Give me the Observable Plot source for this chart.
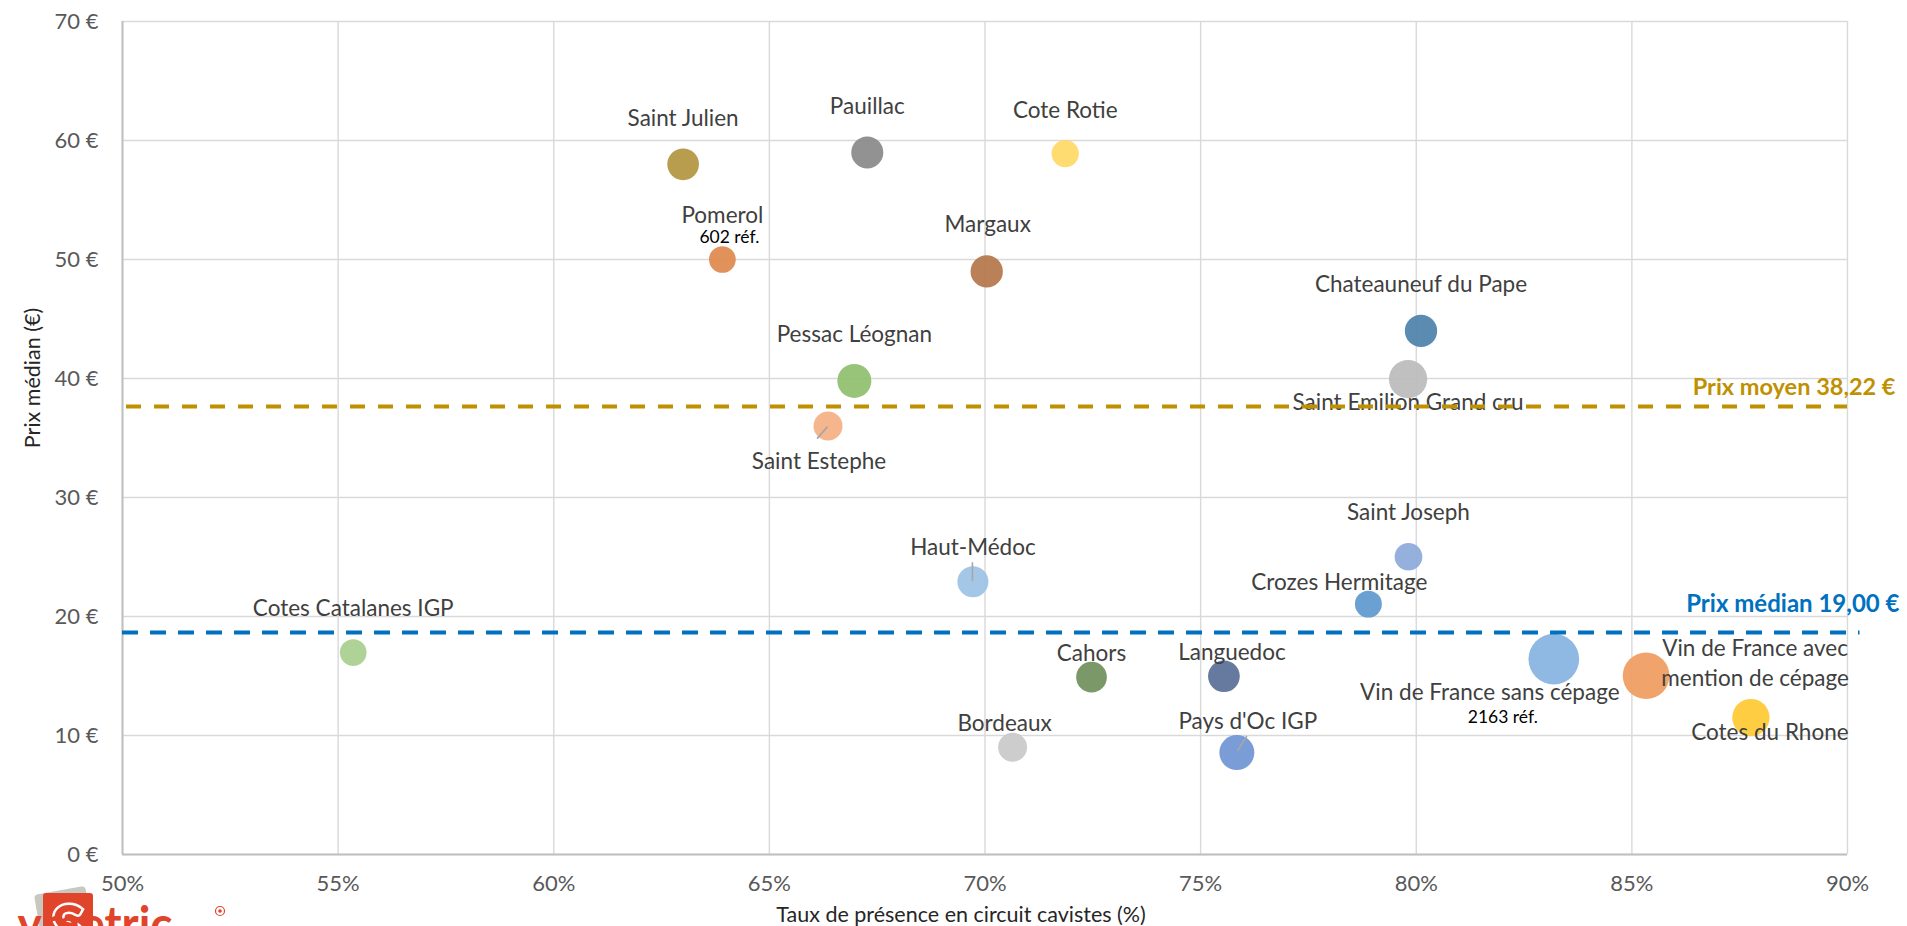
<!DOCTYPE html>
<html>
<head>
<meta charset="utf-8">
<script src="https://cdn.jsdelivr.net/npm/d3@7"></script>
<script src="https://cdn.jsdelivr.net/npm/@observablehq/plot@0.6"></script>
<style>
  html, body { margin: 0; padding: 0; background: #fff; }
  #chart { position: relative; width: 1907px; height: 926px; overflow: hidden; }
</style>
</head>
<body>
<div id="chart"></div>
<script>
// ---------- Data ----------
const appellations = [
  "Saint Julien", "Pauillac", "Cote Rotie", "Pomerol", "Margaux",
  "Pessac Léognan", "Saint Estephe", "Chateauneuf du Pape", "Saint Emilion Grand cru",
  "Cotes Catalanes IGP", "Haut-Médoc", "Cahors", "Languedoc", "Bordeaux",
  "Pays d'Oc IGP", "Saint Joseph", "Crozes Hermitage",
  "Vin de France sans cépage", "Vin de France avec\nmention de cépage", "Cotes du Rhone"
];
// Taux de présence en circuit cavistes (%)
const presence = [63.0, 67.27, 71.86, 63.91, 70.04, 66.97, 66.36, 80.11, 79.81,
                  55.35, 69.72, 72.47, 75.54, 70.64, 75.84, 79.82, 78.89, 83.19, 85.33, 87.76];
// Prix médian (€)
const prixMedian = [58.0, 59.0, 58.9, 50.0, 49.0, 39.8, 36.0, 44.0, 39.95,
                    16.97, 22.92, 14.9, 14.98, 9.02, 8.57, 25.02, 21.04, 16.42, 15.02, 11.51];
// Nombre de références (bubble size)
const references = [845, 862, 627, 602, 878, 973, 708, 878, 1234,
                    600, 809, 793, 845, 708, 1031, 646, 613, 2163, 1835, 1171];
const bubbleColors = ["#b1963f", "#8a8a8a", "#ffd966", "#df8a4f", "#b5764a",
                      "#8fc06e", "#f4b084", "#5082ab", "#bbbbbb",
                      "#a9d08e", "#9dc3e6", "#71905d", "#5a6f98", "#c9c9c9",
                      "#7094d4", "#8eaadb", "#5f99cf", "#86b3e0", "#f09c61", "#ffc933"];
// appellations whose reference count is written on the chart
const refCountShown = ["Pomerol", "Vin de France sans cépage"];

// Reference lines (label text, and level where the dashed line is drawn in the picture)
const refLineLabels = ["Prix moyen 38,22 €", "Prix médian 19,00 €"];
const refLineLevels = [37.65, 18.66];
const refLineColors = ["#bf9000", "#0070c0"];

const xTicks = [50, 55, 60, 65, 70, 75, 80, 85, 90];
const yTicks = [0, 10, 20, 30, 40, 50, 60, 70];
const xTitle = "Taux de présence en circuit cavistes (%)";
const yTitle = "Prix médian (€)";

// ---------- Layout (pixel offsets of labels, not data) ----------
const labelOffset = {
  "Saint Julien": [0, -48], "Pauillac": [0, -48], "Cote Rotie": [0, -45],
  "Pomerol": [0, -46], "Margaux": [1, -49], "Pessac Léognan": [0, -48],
  "Saint Estephe": [-9, 33], "Chateauneuf du Pape": [0, -48],
  "Saint Emilion Grand cru": [0, 21], "Cotes Catalanes IGP": [0, -46],
  "Haut-Médoc": [0, -36], "Cahors": [0, -26], "Languedoc": [8, -26],
  "Bordeaux": [-8, -26], "Pays d'Oc IGP": [11, -33], "Saint Joseph": [0, -46],
  "Crozes Hermitage": [-29, -24], "Vin de France sans cépage": [-64, 31],
  "Vin de France avec\nmention de cépage": [109, -14], "Cotes du Rhone": [19, 13]
};
const refCountOffset = { "Pomerol": [7, -22], "Vin de France sans cépage": [-51, 58] };
const leaderOffset = {
  "Saint Estephe": [[0, 1], [-10.5, 13]],
  "Haut-Médoc": [[0, 0], [0, -19]],
  "Pays d'Oc IGP": [[1, -1], [10.5, -16]]
};

const table = appellations.map((name, i) => ({
  name, x: presence[i], y: prixMedian[i], refs: references[i], color: bubbleColors[i]
}));
const refLines = refLineLabels.map((label, i) => ({label, y: refLineLevels[i], color: refLineColors[i]}));

const FONT = "Lato, 'Open Sans', sans-serif";
const W = 1907, H = 926;

const labelMarks = table.map(d => Plot.text([d], {
  x: "x", y: "y", text: "name",
  dx: labelOffset[d.name][0], dy: labelOffset[d.name][1],
  fontSize: 22.5, fill: "#404040", lineHeight: 1.33
}));
const refCountMarks = table.filter(d => refCountShown.includes(d.name)).map(d => Plot.text([d], {
  x: "x", y: "y", text: d => `${d.refs} réf.`,
  dx: refCountOffset[d.name][0], dy: refCountOffset[d.name][1],
  fontSize: 17.5, fill: "#000"
}));

// leader lines, drawn through the plot's own scales
const leaders = (index, scales) => {
  const g = d3.create("svg:g");
  for (const d of table) {
    const off = leaderOffset[d.name];
    if (!off) continue;
    const px = scales.x(d.x), py = scales.y(d.y);
    g.append("line")
      .attr("x1", px + off[0][0]).attr("y1", py + off[0][1])
      .attr("x2", px + off[1][0]).attr("y2", py + off[1][1])
      .attr("stroke", "#a6a6a6").attr("stroke-width", 1.6);
  }
  return g.node();
};

const chart = Plot.plot({
  width: W, height: H,
  marginLeft: 122, marginRight: 60, marginTop: 21, marginBottom: 72,
  style: { fontFamily: FONT, fontSize: "22px", color: "#595959", background: "#fff", overflow: "visible" },
  x: { domain: [50, 90], ticks: xTicks, tickFormat: d => d + "%", tickSize: 0, tickPadding: 21, label: null },
  y: { domain: [0, 70], ticks: yTicks, tickFormat: d => d + " €", tickSize: 0, tickPadding: 24, label: null },
  r: { type: "sqrt", domain: [0, 2163], range: [0, 25.35] },
  color: { type: "identity" },
  marks: [
    Plot.ruleX(xTicks, { stroke: "#d9d9d9", strokeWidth: 1.4 }),
    Plot.ruleY(yTicks, { stroke: "#d9d9d9", strokeWidth: 1.4 }),
    Plot.ruleX([50], { stroke: "#bfbfbf", strokeWidth: 2 }),
    Plot.ruleY([0], { stroke: "#bfbfbf", strokeWidth: 2 }),
    Plot.dot(table, { x: "x", y: "y", r: "refs", fill: "color", fillOpacity: 0.93, stroke: null }),
    leaders,
    ...labelMarks,
    ...refCountMarks,
    Plot.ruleY(refLines.slice(0, 1), { y: "y", x1: 50, x2: 90, stroke: "color", strokeWidth: 4, strokeDasharray: "15,13", strokeDashoffset: -4 }),
    Plot.ruleY(refLines.slice(1), { y: "y", x1: 50, x2: 90.29, stroke: "color", strokeWidth: 4, strokeDasharray: "16,12" }),
    Plot.text(refLines.slice(0, 1), { x: 90, y: "y", text: "label", dx: 48, dy: -19, textAnchor: "end", fill: "color", fontSize: 23.5, fontWeight: "bold" }),
    Plot.text(refLines.slice(1), { x: 90, y: "y", text: "label", dx: 52, dy: -28, textAnchor: "end", fill: "color", fontSize: 24, fontWeight: "bold" }),
    Plot.text([xTitle], { frameAnchor: "bottom", textAnchor: "middle", lineAnchor: "middle", dx: -24, dy: 61, fontSize: 21.5, fill: "#262626" }),
    Plot.text([yTitle], { frameAnchor: "left", textAnchor: "middle", lineAnchor: "middle", rotate: -90, dx: -89, dy: -60, fontSize: 21.5, fill: "#262626" })
  ]
});

document.getElementById("chart").appendChild(chart);

// Symetric logo (bottom-left, partly cut off as in the reference)
const svg = d3.select(chart);
const logo = svg.append("g").attr("class", "logo");
logo.append("rect").attr("x", 38).attr("y", 890).attr("width", 52).attr("height", 52).attr("rx", 4)
  .attr("fill", "#c9c8c0").attr("transform", "rotate(-10 64 916)");
logo.append("rect").attr("x", 43).attr("y", 893).attr("width", 50).attr("height", 50).attr("rx", 3)
  .attr("fill", "#e0442a");
logo.append("text").attr("x", 68).attr("y", 948).attr("text-anchor", "middle")
  .attr("font-family", FONT).attr("font-weight", "bold").attr("font-size", 60)
  .attr("fill", "#e0442a").attr("stroke", "#fff").attr("stroke-width", 5).attr("paint-order", "stroke").text("S");
logo.append("text").attr("x", 95).attr("y", 942)
  .attr("font-family", FONT).attr("font-weight", "bold").attr("font-size", 50)
  .attr("textLength", 155).attr("lengthAdjust", "spacingAndGlyphs")
  .attr("fill", "#e0442a").text("ymetric");
logo.append("circle").attr("cx", 220).attr("cy", 911).attr("r", 4.5).attr("fill", "none").attr("stroke", "#e0442a").attr("stroke-width", 1.2);
logo.append("circle").attr("cx", 220).attr("cy", 911).attr("r", 1.8).attr("fill", "#e0442a");
</script>
</body>
</html>
